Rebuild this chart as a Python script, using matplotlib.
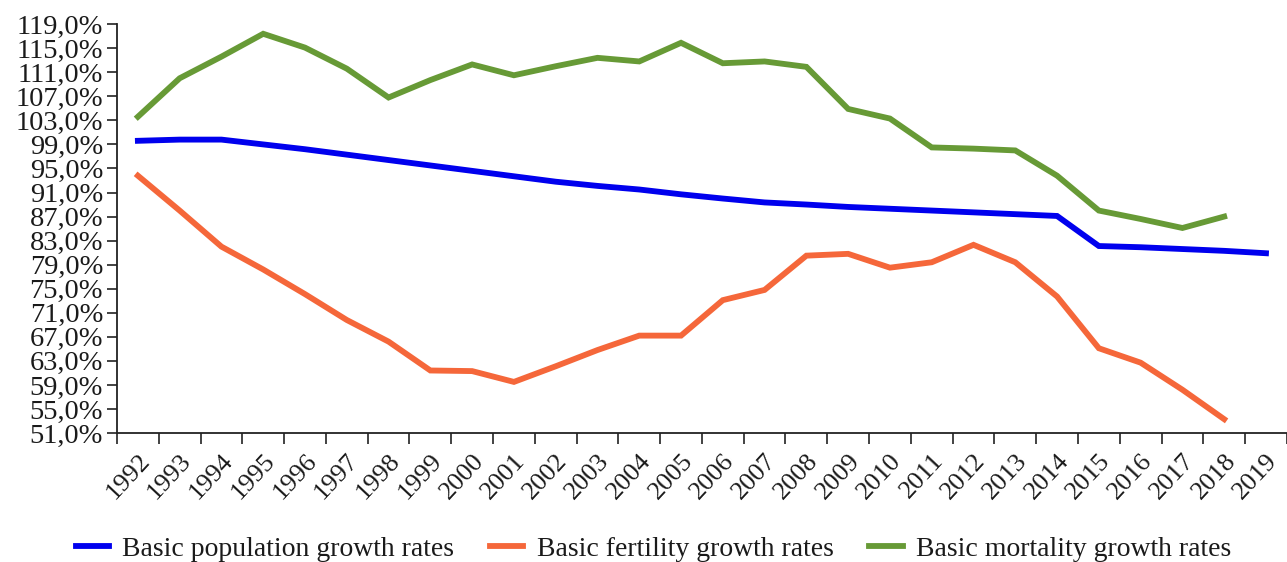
import numpy as np
import matplotlib
matplotlib.use("Agg")
import matplotlib.pyplot as plt
import matplotlib.transforms as mtransforms
from matplotlib.ticker import FuncFormatter, FixedLocator

# dados (%)
years = [str(y) for y in range(1992, 2020)]

population = [99.6, 99.8, 99.8, 99.0, 98.2, 97.3, 96.4, 95.5, 94.6, 93.7,
              92.8, 92.1, 91.5, 90.7, 90.0, 89.35, 89.0, 88.6, 88.3, 88.0,
              87.7, 87.4, 87.1, 82.1, 81.9, 81.6, 81.3, 80.9]
fertility = [93.8, 88.0, 82.0, 78.2, 74.1, 69.8, 66.2, 61.4, 61.3, 59.5,
             62.1, 64.8, 67.2, 67.2, 73.1, 74.8, 80.5, 80.8, 78.5, 79.4,
             82.3, 79.4, 73.7, 65.1, 62.7, 58.2, 53.3, np.nan]
mortality = [103.6, 110.0, 113.6, 117.4, 115.1, 111.6, 106.8, 109.7, 112.3, 110.5,
             112.0, 113.4, 112.8, 115.9, 112.5, 112.8, 111.9, 104.9, 103.3, 98.5,
             98.3, 98.0, 93.8, 88.0, 86.6, 85.1, 87.0, np.nan]

labels = ["Basic population growth rates",
          "Basic fertility growth rates",
          "Basic mortality growth rates"]
colors = ["#0000ee", "#f5673a", "#679a36"]

plt.rcParams["font.family"] = ["Liberation Serif", "DejaVu Serif"]
plt.rcParams["text.color"] = "#1a1a1a"

fig = plt.figure(figsize=(12.87, 5.62), dpi=100)
ax = fig.add_axes([0.0909, 0.2295, 0.909, 0.7275])

x = np.arange(len(years))
for serie, lbl, cor in zip([population, fertility, mortality], labels, colors):
    ax.plot(x, serie, color=cor, lw=4.2, label=lbl, solid_joinstyle="miter")

# eixos
ax.set_xlim(-0.5, len(years) - 0.5)
ax.set_ylim(51, 119)
ax.set_yticks(np.arange(51, 120, 4))
ax.yaxis.set_major_formatter(FuncFormatter(lambda v, p: f"{v:.1f}%".replace(".", ",")))

# marcas entre as categorias, rótulos no centro
ax.set_xticks(x)
ax.set_xticklabels(years, rotation=47, ha="center", va="top")
ax.xaxis.set_minor_locator(FixedLocator(np.arange(-0.5, len(years), 1.0)))
ax.tick_params(axis="x", which="major", length=0, labelsize=19, pad=12,
               labelcolor="#1a1a1a")
ax.tick_params(axis="x", which="minor", length=8, width=1.2, color="#222222")
ax.tick_params(axis="y", length=7, width=1.2, color="#222222", labelsize=20.5, pad=3,
               labelcolor="#1a1a1a")

# desloca os rótulos um pouco para a esquerda (depois do tick_params!)
desloc = mtransforms.ScaledTranslation(-10 / 100, 0, fig.dpi_scale_trans)
for t in ax.get_xticklabels():
    t.set_transform(t.get_transform() + desloc)

for s in ["top", "right"]:
    ax.spines[s].set_visible(False)
for s in ["left", "bottom"]:
    ax.spines[s].set_linewidth(1.3)
    ax.spines[s].set_color("#222222")

ax.legend(loc="center", bbox_to_anchor=(0.4585, -0.284), ncol=3, frameon=False,
          fontsize=20, handlelength=1.2, columnspacing=1.3, handletextpad=0.47,
          borderpad=0, borderaxespad=0)

fig.savefig("out.png", dpi=100)
